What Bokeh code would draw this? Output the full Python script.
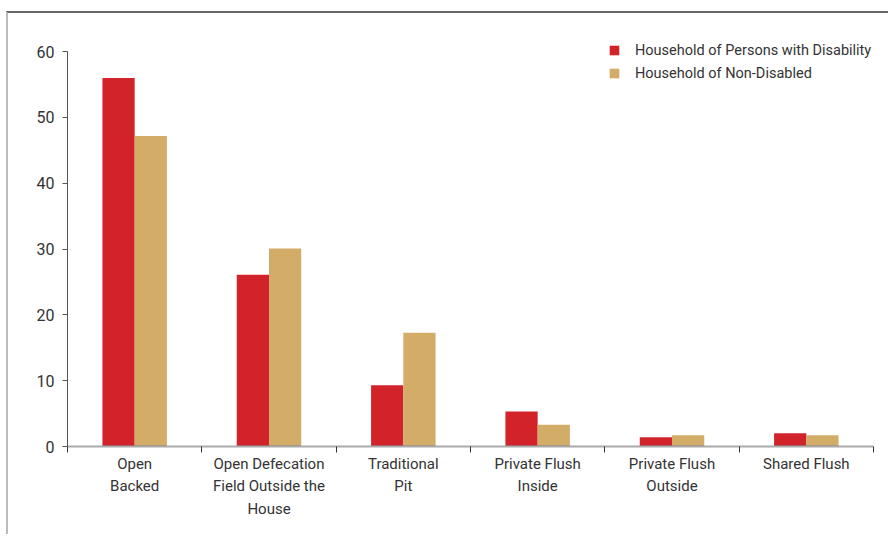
from bokeh.plotting import figure
from bokeh.models import Range1d, FixedTicker, ColumnDataSource, Legend, LegendItem
from bokeh.transform import dodge
from bokeh.embed import file_html
from bokeh.resources import INLINE

categories = ["Open\nBacked", "Open Defecation\nField Outside the\nHouse", "Traditional\nPit",
              "Private Flush\nInside", "Private Flush\nOutside", "Shared Flush"]
disabled = [56.0, 26.1, 9.3, 5.3, 1.4, 2.0]
non_disabled = [47.2, 30.1, 17.3, 3.3, 1.7, 1.7]
series_names = ["Household of Persons with Disability", "Household of Non-Disabled"]
y_ticks = [0, 10, 20, 30, 40, 50, 60]

RED = "#D2232B"
TAN = "#D3AC68"
FONT = "Roboto"

xi = [i + 0.5 for i in range(len(categories))]
src = ColumnDataSource(dict(x=xi, a=disabled, b=non_disabled))

p = figure(width=882, height=523, output_backend="svg", toolbar_location=None,
           x_range=Range1d(0, len(categories)), y_range=Range1d(0, 62),
           min_border_left=59, min_border_right=17, min_border_top=25, min_border_bottom=90)
p.styles = {"border-top": "2px solid #666666", "border-left": "2px solid #bbbbbb",
            "margin-top": "11px", "margin-left": "6px"}
p.outline_line_color = None
p.grid.visible = False

r1 = p.vbar(x=dodge("x", -0.12, range=p.x_range), top="a", width=0.24, source=src,
            fill_color=RED, line_color=None)
r2 = p.vbar(x=dodge("x", 0.12, range=p.x_range), top="b", width=0.24, source=src,
            fill_color=TAN, line_color=None)
p.segment(x0=dodge("x", -0.24, range=p.x_range), x1=dodge("x", 0.24, range=p.x_range),
          y0=0, y1=0, source=src, line_color="#222222", line_width=1.5)

# x axis
xa = p.xaxis[0]
xa.ticker = FixedTicker(ticks=xi, minor_ticks=list(range(len(categories) + 1)))
xa.major_label_overrides = {x: c for x, c in zip(xi, categories)}
xa.major_tick_line_color = None
xa.major_tick_out = 0
xa.major_tick_in = 0
xa.minor_tick_line_color = "#333333"
xa.minor_tick_out = 6
xa.minor_tick_in = 0
xa.axis_line_color = "#aaaaaa"
xa.axis_line_width = 2
xa.major_label_text_font = FONT
xa.major_label_text_font_size = "15px"
xa.major_label_text_color = "#333333"
xa.major_label_standoff = 2
xa.major_label_text_line_height = 1.27

# y axis
ya = p.yaxis[0]
ya.ticker = FixedTicker(ticks=y_ticks)
ya.bounds = (0, 60)
ya.minor_tick_line_color = None
ya.major_tick_out = 5
ya.major_tick_in = 0
ya.major_tick_line_color = "#555555"
ya.axis_line_color = "#555555"
ya.major_label_text_font = FONT
ya.major_label_text_font_size = "16px"
ya.major_label_text_color = "#333333"
ya.major_label_standoff = 8

legend = Legend(items=[LegendItem(label=series_names[0], renderers=[r1]),
                       LegendItem(label=series_names[1], renderers=[r2])],
                location=(541, 363), border_line_color=None, background_fill_alpha=0,
                glyph_width=12, glyph_height=12, label_height=20, spacing=3, padding=0,
                margin=0, label_standoff=15, label_text_font=FONT,
                label_text_font_size="14.5px", label_text_color="#333333")
p.add_layout(legend, "center")

open("out.html", "w").write(file_html(p, INLINE))
